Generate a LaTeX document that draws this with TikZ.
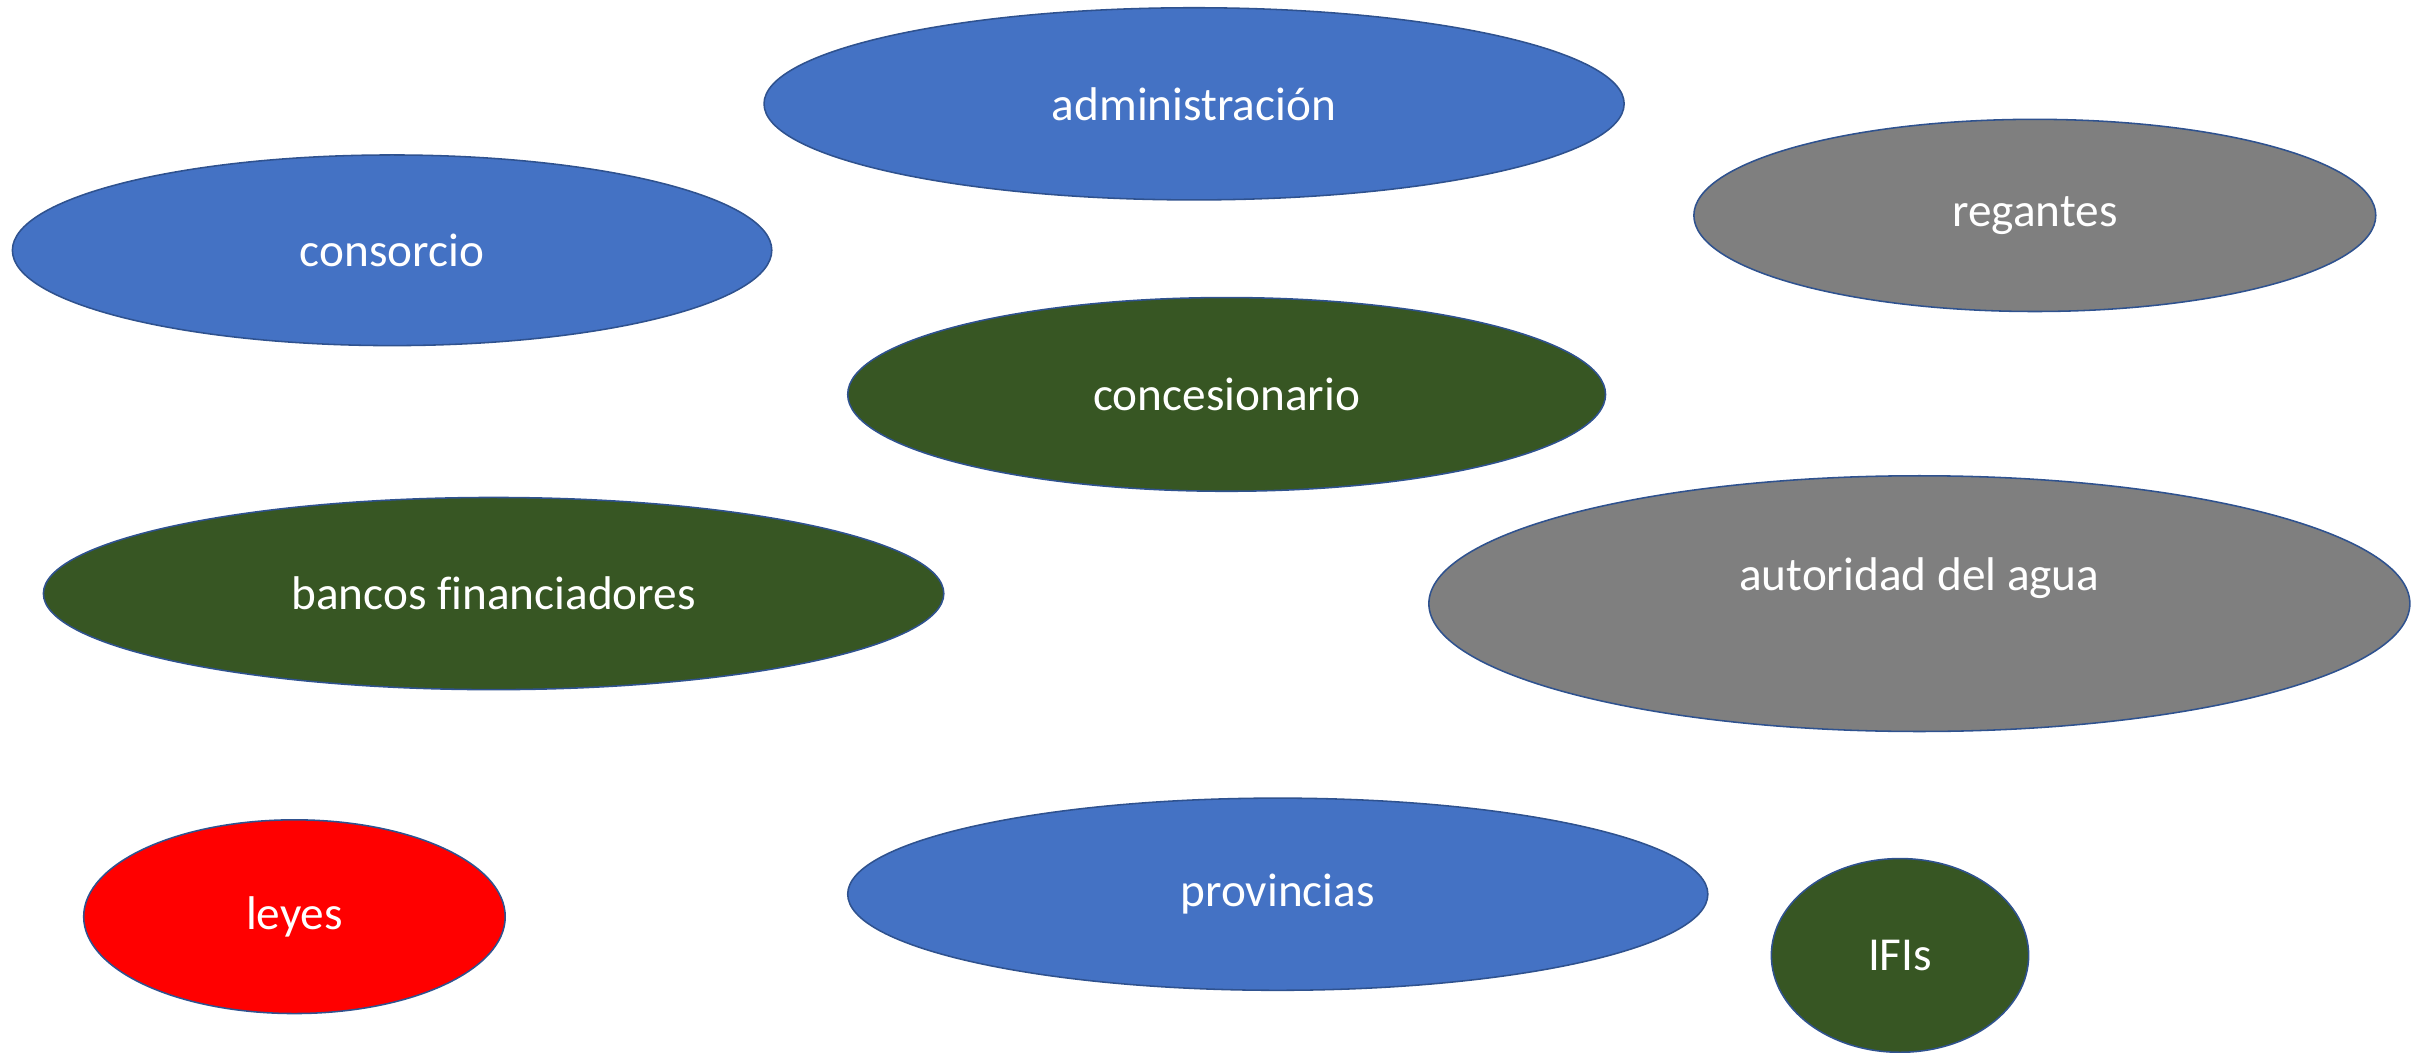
\documentclass[tikz,border=0pt]{standalone}
\usepackage{fontspec}
\setmainfont[Ligatures=CommonOff]{Carlito}
\usetikzlibrary{shapes.geometric}
\definecolor{bord}{HTML}{2F528F}
\definecolor{cblue}{HTML}{4472C4}
\definecolor{cgreen}{HTML}{375623}
\definecolor{cgrey}{HTML}{7F7F7F}
\definecolor{cred}{HTML}{FF0000}
\tikzset{
  ell/.style={ellipse, draw=bord, line width=1pt, inner sep=0pt, text=white,
    font=\fontsize{30.5}{36}\selectfont},
  blueell/.style={ell, fill=cblue},
  greenell/.style={ell, fill=cgreen},
  greyell/.style={ell, fill=cgrey},
  redell/.style={ell, fill=cred},
}
\begin{document}
\begin{tikzpicture}[x=1pt,y=-1pt]
\useasboundingbox (0,0) rectangle (1568,679);
\node[blueell, minimum width=555pt, minimum height=124pt] (adm) at (770.5,67) {administración};
\node[blueell, minimum width=490pt, minimum height=123pt] (cons) at (253,161.5) {consorcio};
\node[greyell, minimum width=440pt, minimum height=124pt] (reg) at (1313,139) {regantes};
\node[greenell, minimum width=489pt, minimum height=125pt] (conc) at (791.5,254.5) {concesionario};
\node[greenell, minimum width=581pt, minimum height=124pt] (banc) at (318.5,383) {bancos financiadores};
\node[greyell, minimum width=633pt, minimum height=165pt,
  label={[yshift=16.5pt, text=white, font=\fontsize{30.5}{36}\selectfont]center:autoridad del agua}] (aut) at (1238.5,389.5) {};
\node[redell, minimum width=272pt, minimum height=125pt] (leyes) at (190,591.5) {leyes};
\node[blueell, minimum width=555pt, minimum height=124pt] (prov) at (824.5,577) {provincias};
\node[greenell, minimum width=166pt, minimum height=125pt] (ifis) at (1226,616.5) {IFIs};
\end{tikzpicture}
\end{document}
